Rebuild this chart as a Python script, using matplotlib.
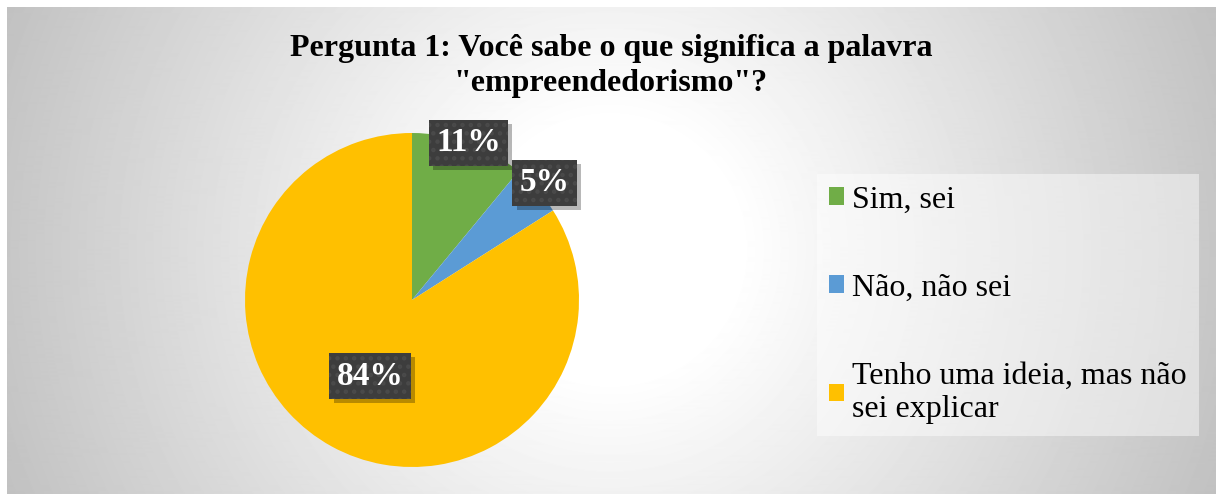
import matplotlib.pyplot as plt
import matplotlib.patheffects as pe
from matplotlib.patches import Patch
import numpy as np

plt.rcParams['font.family'] = ['Liberation Serif', 'DejaVu Serif']
plt.rcParams['hatch.linewidth'] = 2.0

title = 'Pergunta 1: Você sabe o que significa a palavra\n"empreendedorismo"?'
categories = ['Sim, sei', 'Não, não sei', 'Tenho uma ideia, mas não\nsei explicar']
values = [11, 5, 84]
colors = ['#70AD47', '#5B9BD5', '#FFC000']


class PlainShadow(pe.AbstractPathEffect):
    # drop shadow without the hatch of the box
    def __init__(self, offset=(3, -3), alpha=0.28):
        super().__init__(offset)
        self.alpha = alpha

    def draw_path(self, renderer, gc, tpath, affine, rgbFace):
        gc0 = renderer.new_gc()
        gc0.copy_properties(gc)
        gc0.set_hatch(None)
        gc0.set_foreground('none')
        gc0.set_linewidth(0)
        gc0.set_alpha(self.alpha)
        renderer.draw_path(gc0, tpath, affine + self._offset_transform(renderer), (0, 0, 0))
        gc0.restore()


W, H = 1216, 494
fig = plt.figure(figsize=(W / 100, H / 100), dpi=100)
fig.patch.set_facecolor('white')

## background: radial gray gradient inside the chart area
bg = fig.add_axes([7 / W, 0, (W - 7) / W, (H - 7) / H])
yy, xx = np.mgrid[7:H, 7:W]
d = np.sqrt((xx - 610.0) ** 2 + (yy - 250.0) ** 2)
shade = np.clip(1.06 - 0.000465 * d, 0, 1)
bg.imshow(shade, cmap='gray', vmin=0, vmax=1, aspect='auto', interpolation='bilinear')
bg.axis('off')

## pie
cx, cy, r = 412, 300, 167
ax = fig.add_axes([(cx - r) / W, (H - cy - r) / H, 2 * r / W, 2 * r / H])
wedges, _ = ax.pie(values, colors=colors, startangle=90, counterclock=False,
                   radius=1, wedgeprops=dict(linewidth=0))
ax.set_xlim(-1, 1)
ax.set_ylim(-1, 1)
ax.axis('off')

# label distance from centre for each slice (Excel best fit)
dist = [1.0, 1.06, 0.52]
for w, v, dd in zip(wedges, values, dist):
    ang = np.deg2rad((w.theta1 + w.theta2) / 2)
    x, y = dd * np.cos(ang), dd * np.sin(ang)
    t = ax.text(x, y, '{}%'.format(v), ha='center', va='center', fontsize=24,
                fontweight='bold', color='white', zorder=5,
                bbox=dict(boxstyle='square,pad=0.22', facecolor='#3d3d3d',
                          edgecolor='#4a4a4a', hatch='..', linewidth=0))
    t.get_bbox_patch().set_path_effects([PlainShadow((3, -3), 0.28), pe.Normal()])

fig.text(611 / W, 1 - 66 / H, title, ha='center', va='center', fontsize=23,
         fontweight='bold', linespacing=1.25)

handles = [Patch(facecolor=c, edgecolor='none') for c in colors]
leg = fig.legend(handles, categories, loc='upper left',
                 bbox_to_anchor=(817 / W, 1 - 174 / H), fontsize=23,
                 frameon=True, fancybox=False, framealpha=0.45,
                 handlelength=0.47, handleheight=0.47, handletextpad=0.28,
                 labelspacing=1.85, borderpad=0.36, borderaxespad=0)
leg.get_frame().set_facecolor('white')
leg.get_frame().set_linewidth(0)

fig.savefig('out.png', dpi=100)
